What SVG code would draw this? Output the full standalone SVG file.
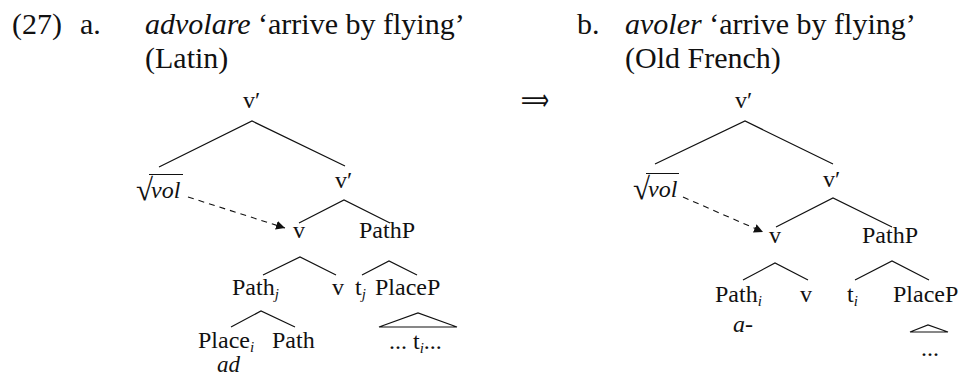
<svg xmlns="http://www.w3.org/2000/svg" width="965" height="383" viewBox="0 0 965 383">
<style>
text{font-family:"Liberation Serif","Times New Roman",serif;fill:#111;}
.h{font-size:30px;}
.n{font-size:24px;}
.it{font-style:italic;}
.sub{font-size:15px;font-style:italic;}
.rad{font-size:31px;}
.e{stroke:#111;stroke-width:1.2;fill:none;}
.d{stroke:#111;stroke-width:1.1;fill:none;stroke-dasharray:6 5;}
</style>
<defs>
<marker id="ah" viewBox="0 0 10 10" refX="10" refY="5" markerWidth="9" markerHeight="9" markerUnits="userSpaceOnUse" orient="auto">
<path d="M0,0 L10,5 L0,10 z" fill="#111"/>
</marker>
</defs>
<g id="header">
<text class="h" x="12" y="34">(27)</text>
<text class="h" x="80" y="34">a.</text>
<text class="h" x="145" y="34"><tspan class="it">advolare</tspan> ‘arrive by flying’</text>
<text class="h" x="145" y="68">(Latin)</text>
<text class="h" x="577" y="34">b.</text>
<text class="h" x="625" y="34"><tspan class="it">avoler</tspan> ‘arrive by flying’</text>
<text class="h" x="625" y="68">(Old French)</text>
<text x="521" y="110" style="font-family:'DejaVu Sans',sans-serif;font-size:30px" textLength="28" lengthAdjust="spacingAndGlyphs">⟹</text>
</g>
<g id="connectors">
<path class="e" d="M159,167 L252,121 L345,166"/>
<path class="e" d="M299,223 L344,200 L390,223"/>
<path class="e" d="M263,275 L300,257 L336,275"/>
<path class="e" d="M362,275 L389,261 L417,275"/>
<path class="e" d="M231,327 L261,311 L295,327"/>
<path class="e" d="M379,327 L418,313 L457,327 Z"/>
<path class="d" d="M188,197 L285,228" marker-end="url(#ah)"/>
<path class="e" d="M655,164 L745,121 L833,164"/>
<path class="e" d="M776,227 L833,198 L892,227"/>
<path class="e" d="M743,280 L775,263 L808,280"/>
<path class="e" d="M855,280 L892,261 L929,280"/>
<path class="e" d="M910,332 L928,325 L948,332 Z"/>
<path class="d" d="M683,197 L763,232" marker-end="url(#ah)"/>
</g>
<g id="treeA">
<g id="a-vbar-top"><text class="n" x="243" y="108">v′</text></g>
<g id="a-root"><text class="rad" x="136" y="200">√</text><text class="n it" x="151" y="198">vol</text><line class="e" x1="149" y1="174.5" x2="183" y2="174.5"/></g>
<g id="a-vbar"><text class="n" x="335" y="188">v′</text></g>
<g id="a-v"><text class="n" x="293" y="238">v</text></g>
<g id="a-pathp"><text class="n" x="359" y="238">PathP</text></g>
<g id="a-pathj"><text class="n" x="232" y="295">Path<tspan class="sub" dy="4">j</tspan></text></g>
<g id="a-v2"><text class="n" x="332" y="295">v</text></g>
<g id="a-tj"><text class="n" x="355" y="295">t<tspan class="sub" dy="4">j</tspan></text></g>
<g id="a-placep"><text class="n" x="375" y="295">PlaceP</text></g>
<g id="a-placei"><text class="n" x="198" y="348">Place<tspan class="sub" dy="4">i</tspan></text><text class="n it" x="217" y="372" style="font-size:23px">ad</text></g>
<g id="a-path"><text class="n" x="272" y="348">Path</text></g>
<g id="a-ti"><text class="n" x="389" y="349">... t<tspan class="sub" dy="4">i</tspan><tspan dy="-4">...</tspan></text></g>
</g>
<g id="treeB">
<g id="b-vbar-top"><text class="n" x="735" y="108">v′</text></g>
<g id="b-root"><text class="rad" x="633" y="199">√</text><text class="n it" x="648" y="197">vol</text><line class="e" x1="646" y1="173.5" x2="679" y2="173.5"/></g>
<g id="b-vbar"><text class="n" x="823" y="187">v′</text></g>
<g id="b-v"><text class="n" x="769" y="243">v</text></g>
<g id="b-pathp"><text class="n" x="862" y="243">PathP</text></g>
<g id="b-pathi"><text class="n" x="715" y="302">Path<tspan class="sub" dy="4">i</tspan></text><text class="n it" x="733" y="332">a-</text></g>
<g id="b-v2"><text class="n" x="800" y="302">v</text></g>
<g id="b-ti"><text class="n" x="847" y="302">t<tspan class="sub" dy="4">i</tspan></text></g>
<g id="b-placep"><text class="n" x="893" y="302">PlaceP</text></g>
<g id="b-dots"><text class="n" x="921" y="356">...</text></g>
</g>
</svg>
